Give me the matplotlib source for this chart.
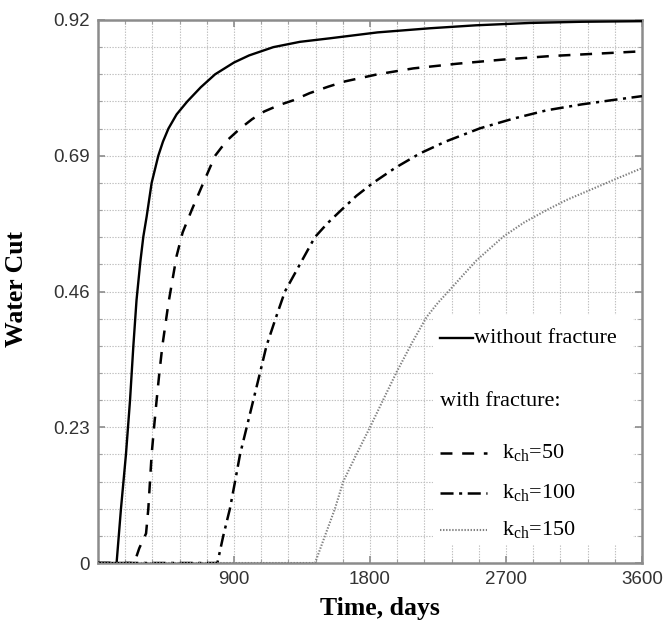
import matplotlib
matplotlib.use("Agg")
import matplotlib.pyplot as plt
from matplotlib.patches import Rectangle
import numpy as np

plt.rcParams['lines.scale_dashes'] = False
plt.rcParams['mathtext.default'] = 'regular'

# ---- data ----
t_nofrac = [0, 123, 152, 185, 212, 234, 255, 280, 300, 322, 355, 399, 430, 466, 520, 591, 680, 775, 900, 1000,
            1160, 1336, 1535, 1850, 2197, 2500, 2859, 3200, 3600]
wc_nofrac = [0, 0, 0.092, 0.184, 0.276, 0.368, 0.4456, 0.51, 0.553, 0.587, 0.644, 0.69, 0.714, 0.736, 0.760, 0.782,
             0.806, 0.828, 0.848, 0.860, 0.874, 0.883, 0.889, 0.899, 0.906, 0.911, 0.915, 0.917, 0.918]

t_k50 = [0, 240, 273, 318, 333, 344, 355, 371, 388, 406, 426, 466, 520, 560, 620, 697, 775, 850, 940, 1020, 1100,
         1200, 1293, 1400, 1523, 1635, 1850, 2086, 2380, 2682, 3000, 3343, 3600]
wc_k50 = [0, 0, 0.025, 0.05, 0.092, 0.138, 0.184, 0.23, 0.276, 0.322, 0.368, 0.44, 0.52, 0.56, 0.598, 0.644, 0.69,
          0.715, 0.736, 0.752, 0.765, 0.776, 0.784, 0.796, 0.807, 0.816, 0.828, 0.838, 0.846, 0.853, 0.859, 0.8635, 0.867]

t_k100 = [0, 790, 829, 873, 907, 940, 984, 1028, 1072, 1115, 1175, 1237, 1336, 1435, 1520, 1610, 1710, 1820, 1970,
          2131, 2300, 2528, 2750, 2969, 3200, 3410, 3600]
wc_k100 = [0, 0, 0.046, 0.092, 0.138, 0.184, 0.23, 0.276, 0.322, 0.368, 0.414, 0.46, 0.506, 0.552, 0.576, 0.598,
           0.622, 0.644, 0.670, 0.694, 0.714, 0.7365, 0.753, 0.767, 0.777, 0.7845, 0.791]

t_k150 = [0, 1436, 1502, 1568, 1623, 1710, 1800, 1890, 1977, 2080, 2175, 2250, 2329, 2420, 2506, 2682, 2820, 2969,
          3100, 3256, 3430, 3600]
wc_k150 = [0, 0, 0.046, 0.092, 0.138, 0.184, 0.23, 0.278, 0.324, 0.374, 0.417, 0.441, 0.463, 0.489, 0.513, 0.553,
           0.577, 0.598, 0.615, 0.632, 0.651, 0.669]

x_ticks = [900, 1800, 2700, 3600]
y_ticks = [0, 0.23, 0.46, 0.69, 0.92]
y_ticklabels = ["0", "0.23", "0.46", "0.69", "0.92"]

legend_labels = ["without fracture", "with fracture:", r"k$_{ch}$=50", r"k$_{ch}$=100", r"k$_{ch}$=150"]

# ---- styles ----
ls_dash = (0, (8.6, 7.0))
ls_dashdot = (0, (9.4, 4.0, 2.2, 4.0))
ls_dot = (0, (1.0, 1.2))

fig = plt.figure(figsize=(6.66, 6.25), dpi=100)
ax = fig.add_axes([98/666, 62/625, 544/666, 543/625])

ax.plot(t_nofrac, wc_nofrac, color='black', lw=1.7, linestyle='-', zorder=3)
ax.plot(t_k50, wc_k50, color='black', lw=1.8, linestyle=ls_dash, zorder=3)
ax.plot(t_k100, wc_k100, color='black', lw=1.8, linestyle=ls_dashdot, zorder=3)
ax.plot(t_k150, wc_k150, color='#808080', lw=1.5, linestyle=ls_dot, zorder=3)

ax.set_xlim(0, 3600)
ax.set_ylim(0, 0.92)
ax.set_xticks(x_ticks)
ax.set_yticks(y_ticks)
ax.set_yticklabels(y_ticklabels)
ax.set_xticks(np.arange(0, 3601, 180), minor=True)
ax.set_yticks(np.linspace(0, 0.92, 21), minor=True)

ax.grid(True, which='both', color='#c0c0c0', linestyle=(0, (1.0, 1.0)), lw=0.8, zorder=0)
ax.set_axisbelow(True)

for s in ax.spines.values():
    s.set_color('#8c8c8c')
    s.set_linewidth(1.8)

ax.tick_params(which='major', direction='in', length=5, width=1.2, color='#8c8c8c',
               top=True, right=True, labelsize=13.5, labelcolor='#333333', pad=6)
ax.tick_params(which='minor', direction='in', length=3, width=0.8, color='#a0a0a0',
               top=True, right=True)
for lab in ax.get_xticklabels() + ax.get_yticklabels():
    lab.set_fontfamily('Liberation Sans')

ax.set_xlabel('Time, days', fontfamily='Liberation Serif', fontweight='bold', fontsize=18.5)
ax.set_ylabel('Water Cut', fontfamily='Liberation Serif', fontweight='bold', fontsize=18.5)
ax.xaxis.set_label_coords(0.519, -0.062)
ax.yaxis.set_label_coords(-0.128, 0.505)

# ---- legend (drawn inside axes on a white box) ----
tr = ax.transAxes
ax.add_patch(Rectangle((0.616, 0.033), 0.367, 0.424, transform=tr, facecolor='white',
                       edgecolor='none', zorder=2))
lfont = dict(fontfamily='Liberation Serif', fontsize=16, va='center', ha='left', transform=tr, zorder=5)
ax.plot([0.629, 0.689], [0.414, 0.414], transform=tr, color='black', lw=1.7, zorder=5)
ax.text(0.692, 0.414, legend_labels[0], **lfont)
ax.text(0.629, 0.297, legend_labels[1], **lfont)
ax.plot([0.629, 0.715], [0.2026, 0.2026], transform=tr, color='black', lw=1.8, linestyle=ls_dash, zorder=5)
ax.text(0.743, 0.2026, legend_labels[2], **lfont)
ax.plot([0.629, 0.715], [0.129, 0.129], transform=tr, color='black', lw=1.8, linestyle=ls_dashdot, zorder=5)
ax.text(0.743, 0.129, legend_labels[3], **lfont)
ax.plot([0.629, 0.715], [0.061, 0.061], transform=tr, color='#808080', lw=1.5, linestyle=ls_dot, zorder=5)
ax.text(0.743, 0.061, legend_labels[4], **lfont)

fig.savefig('out.png', dpi=100)
